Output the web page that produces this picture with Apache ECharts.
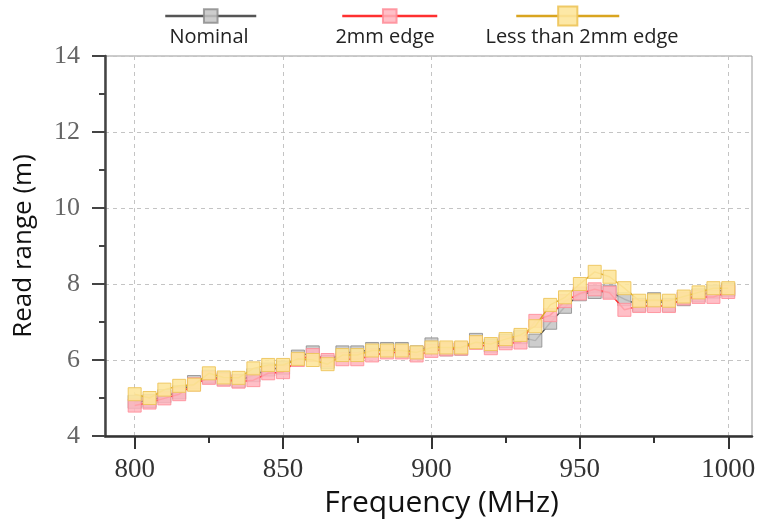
<!DOCTYPE html>
<html>
<head>
<meta charset="utf-8">
<script src="https://cdn.jsdelivr.net/npm/echarts@6/dist/echarts.min.js"></script>
<style>html,body{margin:0;padding:0;background:#fff;}#c{width:760px;height:526px;}</style>
</head>
<body>
<div id="c"></div>
<script>
const freq = [800,805,810,815,820,825,830,835,840,845,850,855,860,865,870,875,880,885,890,895,900,905,910,915,920,925,930,935,940,945,950,955,960,965,970,975,980,985,990,995,1000];
const nominal = [4.90,4.92,5.05,5.15,5.42,5.56,5.50,5.45,5.60,5.75,5.80,6.09,6.20,5.95,6.20,6.20,6.29,6.29,6.29,6.20,6.41,6.28,6.30,6.53,6.38,6.50,6.60,6.51,6.98,7.40,7.73,7.79,7.80,7.60,7.45,7.60,7.45,7.60,7.70,7.80,7.85];
const edge2mm = [4.80,4.88,4.99,5.10,5.36,5.53,5.48,5.43,5.47,5.65,5.68,6.00,6.13,6.00,6.02,6.02,6.12,6.20,6.20,6.12,6.24,6.28,6.30,6.45,6.31,6.44,6.46,7.03,7.18,7.55,7.75,7.86,7.77,7.32,7.42,7.42,7.42,7.62,7.66,7.66,7.79];
const lessThan2mm = [5.10,5.00,5.22,5.32,5.35,5.65,5.54,5.53,5.78,5.87,5.87,6.03,6.00,5.89,6.13,6.13,6.25,6.25,6.25,6.20,6.33,6.33,6.33,6.47,6.42,6.55,6.66,6.89,7.45,7.65,8.00,8.32,8.19,7.89,7.56,7.57,7.56,7.67,7.78,7.89,7.89];
const xMajorTicks = [800,850,900,950,1000];
const xMinorTicks = [825,875,925,975];
const seriesNames = ['Nominal','2mm edge','Less than 2mm edge'];

const chart = echarts.init(document.getElementById('c'), null, {renderer:'canvas'});
const pair = arr => freq.map((f,i)=>[f, arr[i]]);
const sans = '"Open Sans", Lato, sans-serif';
const serif = '"Liberation Serif", "DejaVu Serif", serif';

function legendItem(name, left, width, h){
  return {
    data:[name], left:left, top:16 - h/2, padding:0,
    itemWidth:width, itemHeight:h, formatter:function(){return '';},
    selectedMode:false, lineStyle:{width:2.5, opacity:1}
  };
}

chart.setOption({
  animation:false,
  backgroundColor:'#fff',
  legend:[
    legendItem(seriesNames[0], 164, 91, 17),
    legendItem(seriesNames[1], 341, 95, 17),
    legendItem(seriesNames[2], 515, 103, 24)
  ],
  graphic:[
    {type:'text', x:209, y:37, style:{text:seriesNames[0], font:'20px '+sans, fill:'#222', textAlign:'center', textVerticalAlign:'middle'}},
    {type:'text', x:385, y:37, style:{text:seriesNames[1], font:'20px '+sans, fill:'#222', textAlign:'center', textVerticalAlign:'middle'}},
    {type:'text', x:582, y:37, style:{text:seriesNames[2], font:'20px '+sans, fill:'#222', textAlign:'center', textVerticalAlign:'middle'}}
  ],
  grid:{left:105, right:8, top:56, bottom:90, show:true, borderColor:'#999', borderWidth:1, outerBoundsMode:'none', containLabel:false},
  xAxis:[{
    type:'value', min:790, max:1008,
    name:'Frequency (MHz)', nameLocation:'middle', nameGap:52,
    nameTextStyle:{fontFamily:sans, fontSize:30, color:'#111', padding:[0,0,0,26]},
    axisLine:{show:true, lineStyle:{color:'#333', width:2.5}},
    axisTick:{show:true, length:13, customValues:xMajorTicks, lineStyle:{color:'#333', width:2}},
    axisLabel:{customValues:xMajorTicks, margin:20, fontFamily:serif, fontSize:27, color:'#333', formatter:function(v){return String(v);}},
    splitLine:{show:true, lineStyle:{color:'#c4c4c4', type:[4,4], width:1}}
  },{
    type:'value', min:790, max:1008, position:'bottom',
    axisLine:{show:false},
    axisTick:{show:true, length:7, customValues:xMinorTicks, lineStyle:{color:'#333', width:2}},
    axisLabel:{show:false},
    splitLine:{show:false}
  }],
  yAxis:{
    type:'value', min:4, max:14, interval:2,
    name:'Read range (m)', nameLocation:'middle', nameGap:68,
    nameTextStyle:{fontFamily:sans, fontSize:26, color:'#111'},
    axisLine:{show:true, lineStyle:{color:'#444', width:2.5}},
    axisTick:{show:true, length:13, lineStyle:{color:'#444', width:2}},
    minorTick:{show:true, splitNumber:2, length:6, lineStyle:{color:'#444', width:2}},
    axisLabel:{margin:25, fontFamily:serif, fontSize:26, color:'#666'},
    splitLine:{show:true, lineStyle:{color:'#c4c4c4', type:[4,4], width:1}}
  },
  series:[
    {name:seriesNames[0], type:'line', data:pair(nominal), symbol:'rect', symbolSize:13,
     lineStyle:{color:'#555', width:1.5}, itemStyle:{color:'#c4c4c4', borderColor:'#8e8e8e', borderWidth:1, opacity:0.85}, z:2},
    {name:seriesNames[1], type:'line', data:pair(edge2mm), symbol:'rect', symbolSize:13,
     lineStyle:{color:'#ff3030', width:1.5}, itemStyle:{color:'#ffb4bd', borderColor:'#ff8c98', borderWidth:1, opacity:0.85}, z:3},
    {name:seriesNames[2], type:'line', data:pair(lessThan2mm), symbol:'rect', symbolSize:13,
     lineStyle:{color:'#d9a520', width:1.5}, itemStyle:{color:'#fde59c', borderColor:'#edc45a', borderWidth:1, opacity:0.9}, z:4}
  ]
});
</script>
</body>
</html>
